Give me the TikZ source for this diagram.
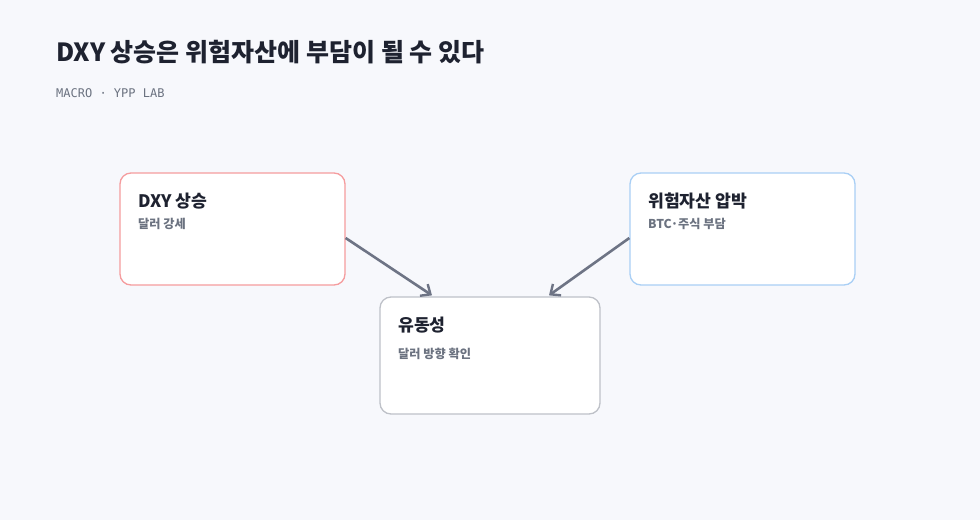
\documentclass[tikz,border=0pt]{standalone}
\usepackage{fontspec}
\setmainfont{Noto Sans CJK KR}
\newfontfamily\monofont{DejaVu Sans Mono}
\usetikzlibrary{arrows.meta}
\definecolor{bgc}{HTML}{F7F8FC}
\definecolor{inkc}{HTML}{1E2230}
\definecolor{mutec}{HTML}{6B7280}
\definecolor{redc}{HTML}{F59C9E}
\definecolor{bluec}{HTML}{A9CFF5}
\definecolor{grayc}{HTML}{BEC1C8}
\definecolor{arrc}{HTML}{6E7485}
\begin{document}
\begin{tikzpicture}
[x=1pt,y=-1pt,>={Straight Barb[length=8pt,width=14pt,line width=2.4pt]},
card/.style={draw,line width=1.3pt,fill=white,rounded corners=11pt,inner sep=0pt},
head/.style={anchor=base west,inner sep=0pt,text=inkc,font=\fontsize{17.2}{20}\selectfont\bfseries},
sub/.style={anchor=base west,inner sep=0pt,text=mutec,font=\fontsize{12.2}{14}\selectfont\bfseries},
flow/.style={->,draw=arrc,line width=2.6pt},]
\useasboundingbox[fill=bgc] (0,0) rectangle (980,520);
\node (title) at (56,61)[anchor=base west,inner sep=0pt,text=inkc,font=\fontsize{25}{28}\selectfont\bfseries]{DXY 상승은 위험자산에 부담이 될 수 있다};
\node (tag) at (56,97)[anchor=base west,inner sep=0pt,text=mutec,font=\fontsize{12}{14}\selectfont\monofont]{MACRO · YPP LAB};
% cards
\node (dxy) at (232.5,229)[card,draw=redc,minimum width=225pt,minimum height=112pt]{};
\node (risk) at (742.5,229)[card,draw=bluec,minimum width=225pt,minimum height=112pt]{};
\node (liq) at (490,355.5)[card,draw=grayc,minimum width=220pt,minimum height=117pt]{};
\node (dxyT) at (138,207)[head]{DXY 상승};
\node (dxyS) at (138,228)[sub]{달러 강세};
\node (riskT) at (648,207)[head]{위험자산 압박};
\node (riskS) at (648,228)[sub]{BTC·주식 부담};
\node (liqT) at (398,331)[head]{유동성};
\node (liqS) at (398,358)[sub]{달러 방향 확인};
\draw[flow] ([yshift=-9pt]dxy.east) -- ([xshift=-58pt,yshift=1pt]liq.north);
\draw[flow] ([yshift=-9pt]risk.west) -- ([xshift=59pt,yshift=1pt]liq.north);
\end{tikzpicture}
\end{document}
